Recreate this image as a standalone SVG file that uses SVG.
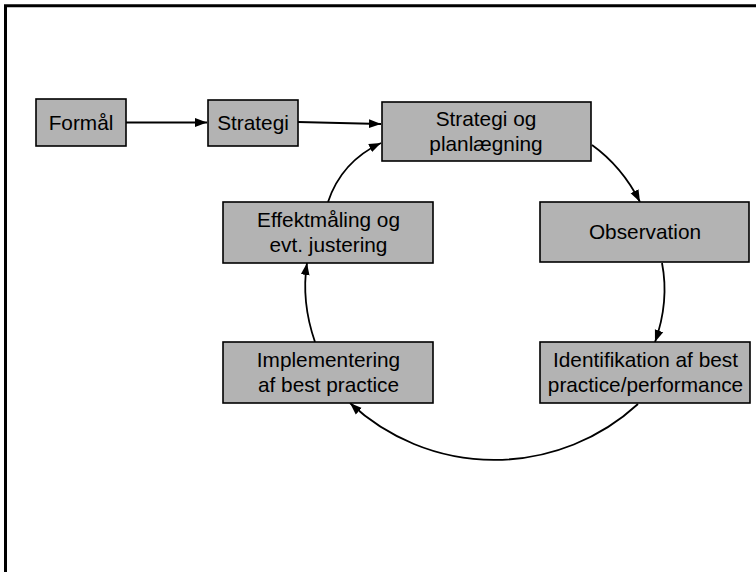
<svg xmlns="http://www.w3.org/2000/svg" width="756" height="572" viewBox="0 0 756 572">
  <style>
    .box { fill: #b3b3b3; stroke: #000; stroke-width: 1.6; }
    .lbl { font-family: "Liberation Sans", Arial, sans-serif; font-size: 20.8px; fill: #000; text-anchor: middle; }
    .edge { fill: none; stroke: #000; stroke-width: 1.8; marker-end: url(#arrow); }
    .frame { fill: none; stroke: #000; stroke-width: 3; }
  </style>
  <defs>
    <marker id="arrow" markerUnits="userSpaceOnUse" markerWidth="13" markerHeight="10" refX="12" refY="5" orient="auto">
      <path d="M0,0.6 L12,5 L0,9.4 Z" fill="#000"/>
    </marker>
  </defs>

  <rect width="756" height="572" fill="#fff"/>

  <!-- page frame -->
  <path class="frame" d="M5.5,572 V5.7 H756"/>

  <!-- connectors -->
  <g id="connectors">
    <path class="edge" d="M126,122.5 L207,122.5"/>
    <path class="edge" d="M298,122 L381,124"/>
    <path class="edge" d="M328,202 Q341.5,161.5 381,143"/>
    <path class="edge" d="M592,145 Q622,166.5 640,202"/>
    <path class="edge" d="M662,263 Q669.5,301.5 655,342"/>
    <path class="edge" d="M638,404 A212,212 0 0 1 350,403"/>
    <path class="edge" d="M315,342 Q301,301.5 307,263"/>
  </g>

  <g id="formaal">
    <rect class="box" x="36" y="99" width="90" height="47"/>
    <text class="lbl" x="81" y="130">Formål</text>
  </g>

  <g id="strategi">
    <rect class="box" x="208" y="100" width="90" height="46"/>
    <text class="lbl" x="253" y="130">Strategi</text>
  </g>

  <g id="strategi-planlaegning">
    <rect class="box" x="382" y="102" width="209" height="59"/>
    <text class="lbl" x="486" y="126">Strategi og</text>
    <text class="lbl" x="486" y="151">planlægning</text>
  </g>

  <g id="observation">
    <rect class="box" x="540" y="202" width="209" height="60"/>
    <text class="lbl" x="645" y="239">Observation</text>
  </g>

  <g id="identifikation">
    <rect class="box" x="540" y="342" width="210" height="61"/>
    <text class="lbl" x="645.5" y="367">Identifikation af best</text>
    <text class="lbl" x="645.5" y="392">practice/performance</text>
  </g>

  <g id="implementering">
    <rect class="box" x="223" y="342" width="210" height="61"/>
    <text class="lbl" x="328.5" y="367">Implementering</text>
    <text class="lbl" x="328.5" y="392">af best practice</text>
  </g>

  <g id="effektmaaling">
    <rect class="box" x="223" y="202" width="210" height="61"/>
    <text class="lbl" x="328.5" y="227">Effektmåling og</text>
    <text class="lbl" x="328.5" y="252">evt. justering</text>
  </g>
</svg>
